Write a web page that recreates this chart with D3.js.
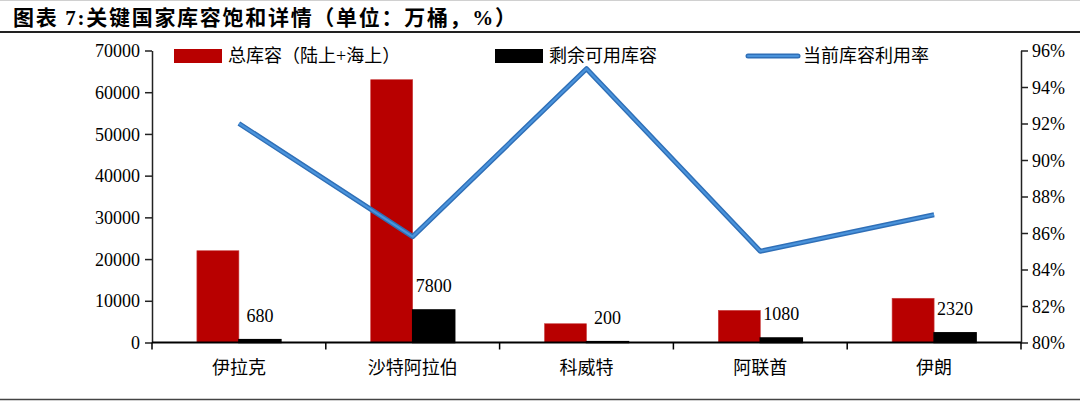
<!DOCTYPE html>
<html>
<head>
<meta charset="utf-8">
<script src="https://cdnjs.cloudflare.com/ajax/libs/d3/7.8.5/d3.min.js"></script>
<style>
	body { margin: 0; background: #fff; }
	text { font-family: "Liberation Serif", "Noto Sans CJK SC", serif; fill: #000; }
</style>
</head>
<body>
<div id="chart"></div>
<script>
// chart data
var categories = ['伊拉克', '沙特阿拉伯', '科威特', '阿联酋', '伊朗'];
var totalCapacity = [22000, 63000, 4500, 7700, 10600];   // 总库容（陆上+海上）
var spareCapacity = [680, 7800, 200, 1080, 2320];         // 剩余可用库容
var utilization = [92, 85.8, 95, 85, 87];                 // 当前库容利用率 (%)
var leftTicks = [0, 10000, 20000, 30000, 40000, 50000, 60000, 70000];
var rightTicks = [80, 82, 84, 86, 88, 90, 92, 94, 96];
var seriesNames = ['总库容（陆上+海上）', '剩余可用库容', '当前库容利用率'];

var width = 1080;
var height = 403;
var plotLeft = 152, plotRight = 1021, plotTop = 50.5, plotBottom = 342.5;

var svg = d3.select('#chart')
	.append('svg')
	.attr('width', width)
	.attr('height', height);

// title + frame lines
svg.append('text')
	.attr('x', 13)
	.attr('y', 25)
	.attr('textLength', 503)
	.attr('lengthAdjust', 'spacing')
	.style('font-size', '21px')
	.style('font-weight', 'bold')
	.text('图表 7:关键国家库容饱和详情（单位：万桶，%）');

svg.append('line').attr('x1', 0).attr('x2', width).attr('y1', 0.5).attr('y2', 0.5)
	.attr('stroke', '#d0d0d0').attr('stroke-width', 1);
svg.append('line').attr('x1', 0).attr('x2', width).attr('y1', 32).attr('y2', 32)
	.attr('stroke', '#222').attr('stroke-width', 2);
svg.append('line').attr('x1', 0).attr('x2', width).attr('y1', 399.5).attr('y2', 399.5)
	.attr('stroke', '#444').attr('stroke-width', 1.5);

var x = d3.scaleBand().domain(categories).range([plotLeft, plotRight]).padding(0);
var xSub = d3.scaleBand().domain(['total', 'spare']).range([-42, 42]).padding(0);
var y = d3.scaleLinear().domain([0, 70000]).range([plotBottom, plotTop]);
var y2 = d3.scaleLinear().domain([80, 96]).range([plotBottom, plotTop]);

function center(d) { return x(d) + x.bandwidth() / 2; }

// left axis
var yAxis = svg.append('g')
	.attr('transform', 'translate(' + plotLeft + ',0)')
	.call(d3.axisLeft(y).tickValues(leftTicks).tickSize(7).tickPadding(5).tickSizeOuter(0)
		.tickFormat(d3.format('d')));
yAxis.select('.domain').attr('stroke', '#222').attr('stroke-width', 1.5);
yAxis.selectAll('.tick line').attr('stroke', '#222').attr('stroke-width', 1.5);
yAxis.selectAll('text').style('font-size', '18px').attr('dy', '0.34em');

// right axis
var y2Axis = svg.append('g')
	.attr('transform', 'translate(' + plotRight + ',0)')
	.call(d3.axisRight(y2).tickValues(rightTicks).tickSize(7).tickPadding(4).tickSizeOuter(0)
		.tickFormat(function(d) { return d + '%'; }));
y2Axis.select('.domain').attr('stroke', '#222').attr('stroke-width', 1.5);
y2Axis.selectAll('.tick line').attr('stroke', '#222').attr('stroke-width', 1.5);
y2Axis.selectAll('text').style('font-size', '18px').attr('dy', '0.34em');

// bars
svg.selectAll('.bar-total')
	.data(categories)
	.enter()
	.append('rect')
	.attr('class', 'bar-total')
	.attr('x', function(d) { return center(d) + xSub('total'); })
	.attr('width', xSub.bandwidth())
	.attr('y', function(d, i) { return y(totalCapacity[i]); })
	.attr('height', function(d, i) { return plotBottom - y(totalCapacity[i]); })
	.attr('fill', '#b80000')
	.attr('stroke', '#c94040')
	.attr('stroke-width', 0.6);

svg.selectAll('.bar-spare')
	.data(categories)
	.enter()
	.append('rect')
	.attr('class', 'bar-spare')
	.attr('x', function(d) { return center(d) + xSub('spare'); })
	.attr('width', xSub.bandwidth())
	.attr('y', function(d, i) { return y(spareCapacity[i]); })
	.attr('height', function(d, i) { return plotBottom - y(spareCapacity[i]); })
	.attr('fill', '#000')
	.attr('stroke', '#000')
	.attr('stroke-width', 1.5);

// value labels on spare bars
svg.selectAll('.label-spare')
	.data(categories)
	.enter()
	.append('text')
	.attr('class', 'label-spare')
	.attr('x', function(d) { return center(d) + xSub('spare') + xSub.bandwidth() / 2; })
	.attr('y', function(d, i) { return y(spareCapacity[i]) - 18; })
	.attr('text-anchor', 'middle')
	.style('font-size', '18px')
	.text(function(d, i) { return spareCapacity[i]; });

// x axis (baseline + boundary ticks)
var xAxis = svg.append('g')
	.attr('transform', 'translate(0,' + plotBottom + ')');
xAxis.append('line')
	.attr('x1', plotLeft).attr('x2', plotRight)
	.attr('stroke', '#000').attr('stroke-width', 2);
xAxis.selectAll('.xtick')
	.data(categories.concat(['end']))
	.enter()
	.append('line')
	.attr('x1', function(d, i) { return i < categories.length ? x(d) : plotRight; })
	.attr('x2', function(d, i) { return i < categories.length ? x(d) : plotRight; })
	.attr('y1', 0).attr('y2', 7)
	.attr('stroke', '#000').attr('stroke-width', 1.5);
xAxis.selectAll('.xlabel')
	.data(categories)
	.enter()
	.append('text')
	.attr('x', center)
	.attr('y', 31)
	.attr('text-anchor', 'middle')
	.style('font-size', '18px')
	.text(function(d) { return d; });

// utilization line
var line = d3.line()
	.x(function(d, i) { return center(categories[i]); })
	.y(function(d) { return y2(d); });

svg.append('path')
	.datum(utilization)
	.attr('d', line)
	.attr('fill', 'none')
	.attr('stroke', '#2f6fb7')
	.attr('stroke-width', 5)
	.attr('stroke-linejoin', 'round');
svg.append('path')
	.datum(utilization)
	.attr('d', line)
	.attr('fill', 'none')
	.attr('stroke', '#4a93db')
	.attr('stroke-width', 2.2)
	.attr('stroke-linejoin', 'round');

// legend
var legend = svg.append('g');
var legendX = [174, 495, 748];
legend.append('rect').attr('x', legendX[0]).attr('y', 49).attr('width', 48).attr('height', 14).attr('fill', '#b80000');
legend.append('rect').attr('x', legendX[1]).attr('y', 49).attr('width', 48).attr('height', 14).attr('fill', '#000');
legend.append('line').attr('x1', legendX[2]).attr('x2', legendX[2] + 50).attr('y1', 56).attr('y2', 56)
	.attr('stroke', '#2f6fb7').attr('stroke-width', 5).attr('stroke-linecap', 'round');
legend.append('line').attr('x1', legendX[2]).attr('x2', legendX[2] + 50).attr('y1', 56).attr('y2', 56)
	.attr('stroke', '#4a93db').attr('stroke-width', 2.2).attr('stroke-linecap', 'round');

legend.selectAll('.legend-text')
	.data(seriesNames)
	.enter()
	.append('text')
	.attr('x', function(d, i) { return legendX[i] + (i < 2 ? 54 : 55); })
	.attr('y', 56)
	.attr('dy', '0.36em')
	.style('font-size', '18px')
	.text(function(d) { return d; });
</script>
</body>
</html>
